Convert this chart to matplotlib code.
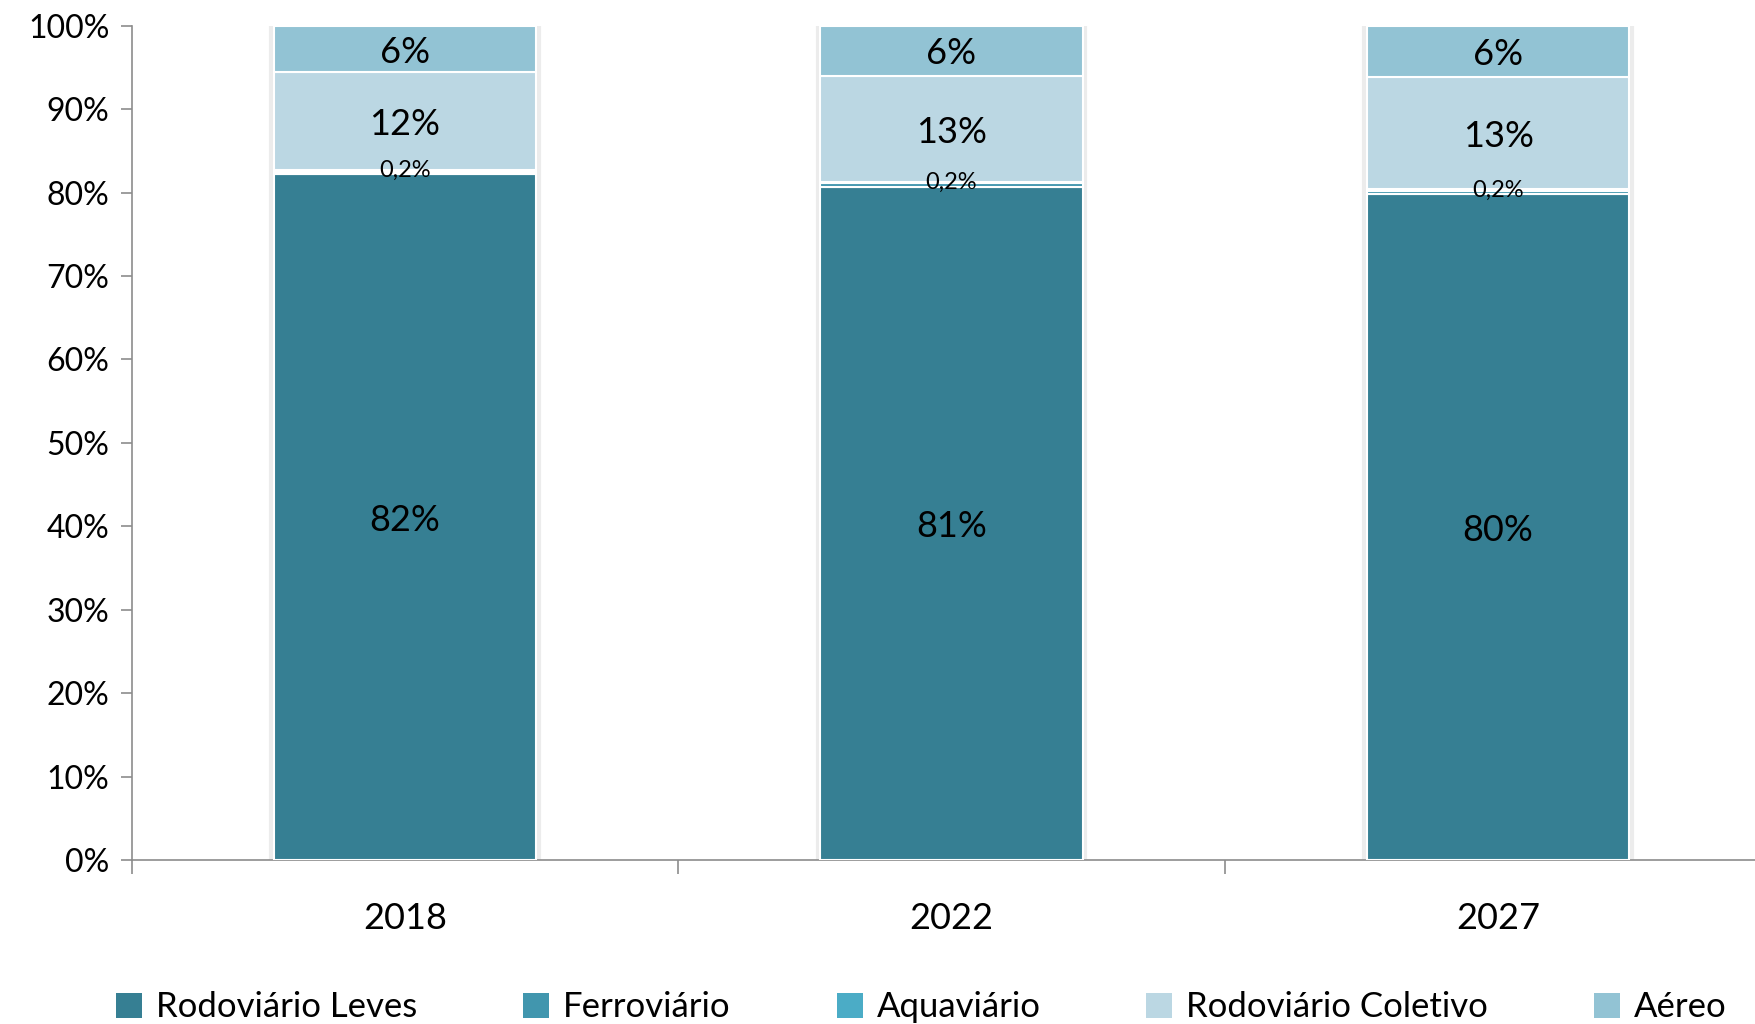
import numpy as np
import matplotlib.pyplot as plt
from matplotlib.patches import Patch

plt.rcParams['font.family'] = ['Lato', 'DejaVu Sans']

years = ['2018', '2022', '2027']
leves = [82.2, 80.7, 79.8]
ferro = [0.3, 0.4, 0.4]
aqua = [0.2, 0.2, 0.2]
coletivo = [11.7, 12.7, 13.4]
aereo = [5.6, 6.0, 6.2]

lab_leves = ['82%', '81%', '80%']
lab_aqua = ['0,2%', '0,2%', '0,2%']
lab_coletivo = ['12%', '13%', '13%']
lab_aereo = ['6%', '6%', '6%']

series = ['Rodoviário Leves', 'Ferroviário', 'Aquaviário', 'Rodoviário Coletivo', 'Aéreo']
colors = ['#367f93', '#4196ae', '#4bacc6', '#bbd7e3', '#92c3d4']

fig = plt.figure(figsize=(17.55, 10.24), dpi=100)
ax = fig.add_axes([0.075, 0.16, 0.925, 0.815])

x = np.arange(len(years))
w = 0.48
bottom = np.zeros(len(years))
data = [leves, ferro, aqua, coletivo, aereo]
bars = []
for vals, c, name in zip(data, colors, series):
    ax.bar(x, vals, w, bottom=bottom, color=c, edgecolor='white', linewidth=1.5,
           label=name, zorder=3)
    bars.append(bottom.copy())
    bottom += np.array(vals)

# soft shadow around the bars
for xi in x:
    ax.bar(xi, 100, w + 0.01, color='none', edgecolor='#ececec', linewidth=3, zorder=2)

for i in range(len(years)):
    ax.text(x[i], bars[0][i] + leves[i] / 2 - 0.4, lab_leves[i], ha='center', va='center', fontsize=26, zorder=5)
    ax.text(x[i], bars[2][i] + aqua[i] / 2, lab_aqua[i], ha='center', va='center', fontsize=17, zorder=5)
    ax.text(x[i], bars[3][i] + coletivo[i] / 2 - 0.4, lab_coletivo[i], ha='center', va='center', fontsize=26, zorder=5)
    ax.text(x[i], bars[4][i] + aereo[i] / 2 - 0.4, lab_aereo[i], ha='center', va='center', fontsize=26, zorder=5)

ax.set_ylim(0, 100)
ax.set_xlim(-0.5, 2.47)
ax.set_yticks(np.arange(0, 101, 10))
ax.set_yticklabels([f'{v}%' for v in range(0, 101, 10)], fontsize=23)
ax.set_xticks(x)
ax.set_xticklabels(years, fontsize=26)
ax.set_xticks([-0.5, 0.5, 1.5], minor=True)
ax.tick_params(axis='x', which='major', length=0, pad=30)
ax.tick_params(axis='x', which='minor', length=10, color='#8c8c8c', width=1.2)
ax.tick_params(axis='y', length=8, color='#8c8c8c', width=1.2, pad=8)

for s in ['top', 'right']:
    ax.spines[s].set_visible(False)
for s in ['left', 'bottom']:
    ax.spines[s].set_color('#8c8c8c')
    ax.spines[s].set_linewidth(1.2)

handles = [Patch(facecolor=c, edgecolor='none') for c in colors]
fig.legend(handles, series, loc='lower center', bbox_to_anchor=(0.525, -0.03), ncol=5,
           frameon=False, fontsize=25, handlelength=0.75, handleheight=0.75,
           handletextpad=0.4, columnspacing=3.05)

fig.savefig('out.png', dpi=100)
